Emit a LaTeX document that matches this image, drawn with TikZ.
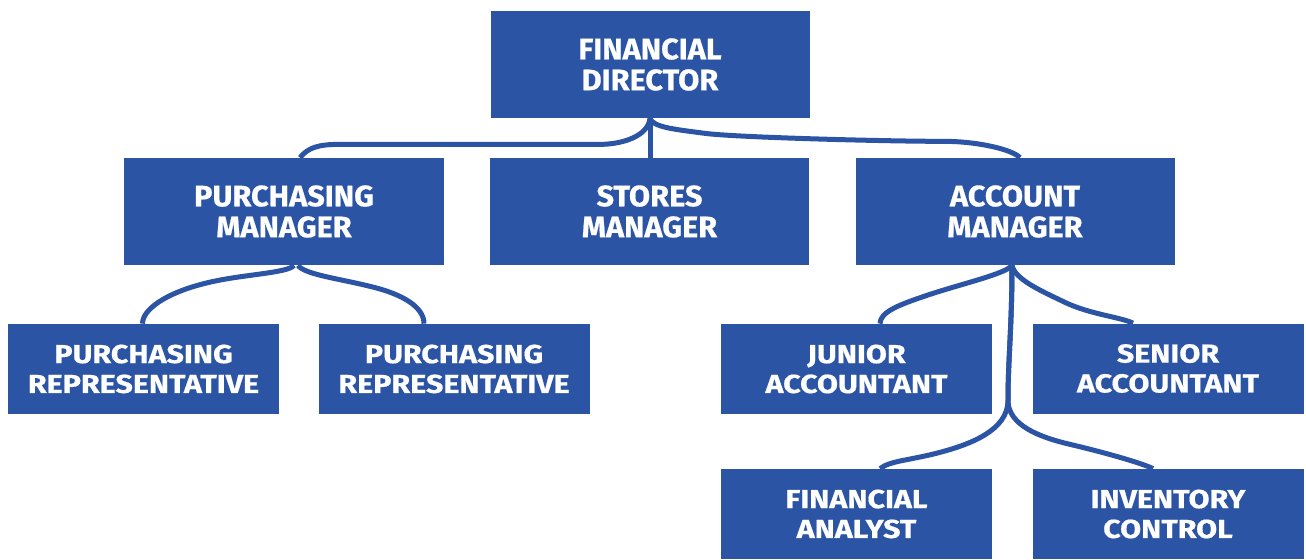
\documentclass[tikz,border=0pt]{standalone}
\usepackage{fontspec}
\setmainfont{Fira Sans}
\newfontfamily\widefont[FakeStretch=1.17, FakeBold=0.6]{Fira Sans}
\newfontfamily\headfont[FakeStretch=1.04, FakeBold=0.6]{Fira Sans}
\usepackage{xcolor}
\usetikzlibrary{
		calc,
		arrows.meta
	}
\definecolor{orgblue}{RGB}{43,84,164}
\tikzset{
		>=stealth,
		role/.style={fill=orgblue, text=white, align=center, inner sep=0pt},
		headbox/.style={role, minimum width=6.38cm, minimum height=2.14cm,
			font=\headfont\bfseries\fontsize{16.8}{17.6}\selectfont},
		staffbox/.style={role, minimum width=5.42cm, minimum height=1.8cm,
			font=\widefont\bfseries\fontsize{14.8}{17}\selectfont},
		link/.style={draw=orgblue, line width=0.1cm}
	}

\begin{document}
\begin{tikzpicture}[x=0.2mm, y=0.2mm] % (each unit = one pixel of the chart, y goes down as -y)
		\useasboundingbox (0,0) rectangle (1306,-559);
		% director and managers
		\node[headbox] (fd) at (650,-64.5) {FINANCIAL\\DIRECTOR};
		\node[headbox] (pm) at (284,-211.5) {PURCHASING\\MANAGER};
		\node[headbox] (sm) at (649.5,-211.5) {STORES\\MANAGER};
		\node[headbox] (am) at (1015,-211.5) {ACCOUNT\\MANAGER};
		% staff boxes
		\foreach \n/\x/\y/\t in {pra/143.5/369/{PURCHASING\\REPRESENTATIVE},
				prb/454/369/{PURCHASING\\REPRESENTATIVE},
				ja/856.5/369/{JUNIOR\\ACCOUNTANT},
				sa/1168/368.5/{SENIOR\\ACCOUNTANT},
				fa/856.5/514/{FINANCIAL\\ANALYST},
				ic/1168/514/{INVENTORY\\CONTROL}}
			\node[staffbox] (\n) at (\x,-\y) {\t};

		% director -> managers
		\draw[link] (fd.south) -- (fd.south |- sm.north);
		\draw[link] (fd.south) .. controls +(-2,-18) and +(22,0) .. ++(-50,-26)
			-- ++(-260,0) .. controls +(-22,0) and +(8,10) .. ($(pm.north)+(16,0)$);
		\draw[link] (fd.south) .. controls +(3,-9) and +(-30,4) .. ++(55,-15)
			.. controls +(30,-4) and +(-60,0) .. ++(240,-8)
			.. controls +(30,0) and +(-9,9) .. ($(am.north)+(5,0)$);
		% purchasing manager -> representatives
		\draw[link] ($(pm.south)+(10,0)$) .. controls +(-6,-8) and +(35,9) .. ++(-89,-18)
			.. controls +(-40,-10) and +(0,14) .. ($(pra.north)+(-1,0)$);
		\draw[link] ($(pm.south)+(14,0)$) .. controls +(6,-9) and +(-30,7.5) .. ++(72,-21)
			.. controls +(34,-8) and +(0,16) .. ($(prb.north)+(-30,0)$);
		% account manager -> accountants
		\draw[link] ($(am.south)+(-3,0)$) .. controls +(-5,-8) and +(30,10) .. ++(-82,-29)
			.. controls +(-30,-10) and +(0,12) .. ($(ja.north)+(23.5,0)$);
		\draw[link] ($(am.south)+(-3,0)$) .. controls +(3,-14) and +(-25,12) .. ++(53,-37)
			.. controls +(25,-12) and +(-12,6) .. ($(sa.north)+(-35,0)$);
		% account manager -> analyst, inventory (down the middle)
		\draw[link] ($(am.south)+(-3,0)$) .. controls +(0,-60) and +(0,40) .. ++(-4,-135)
			.. controls +(0,-30) and +(30,8) .. ++(-68,-52)
			.. controls +(-30,-8) and +(10,8) .. ($(fa.north)+(23.5,0)$);
		\draw[link] ($(am.south)+(-3,0)$) .. controls +(0,-60) and +(0,40) .. ++(-4,-135)
			.. controls +(0,-25) and +(-30,7) .. ++(62,-44)
			.. controls +(30,-7) and +(-12,6) .. ($(ic.north)+(-15,0)$);
	\end{tikzpicture}
\end{document}
